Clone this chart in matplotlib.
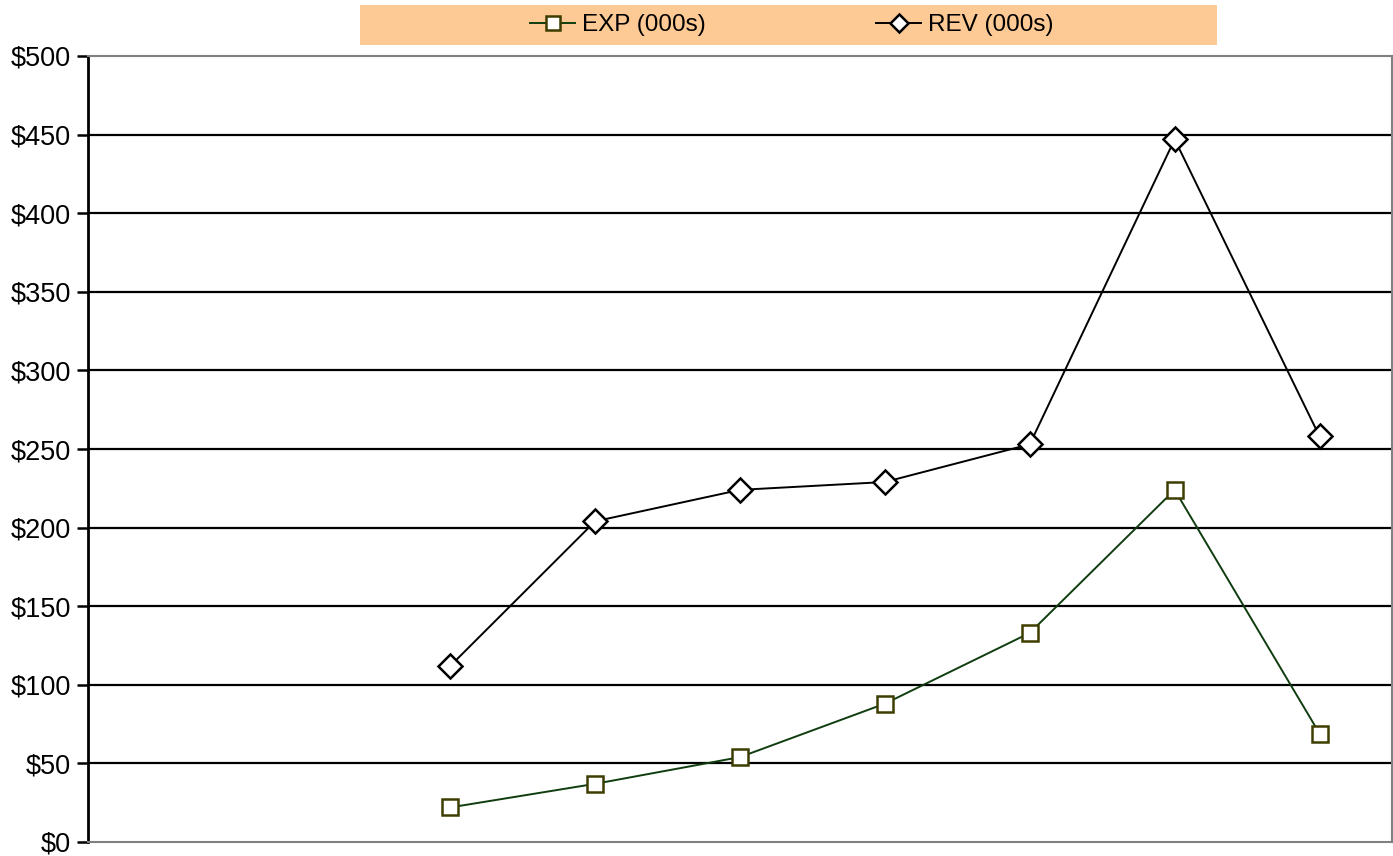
import matplotlib
matplotlib.use("Agg")
import matplotlib.pyplot as plt
from matplotlib.patches import Rectangle
import numpy as np

# Periods on the category axis (the first two have no data)
periods = list(range(9))
exp_000s = [np.nan, np.nan, 22, 37, 54, 88, 133, 224, 69]
rev_000s = [np.nan, np.nan, 112, 204, 224, 229, 253, 447, 258]
y_ticks = [0, 50, 100, 150, 200, 250, 300, 350, 400, 450, 500]
y_labels = [f"${v}" for v in y_ticks]

plt.rcParams["font.family"] = ["Liberation Sans", "DejaVu Sans"]

W, H = 1393, 856
fig = plt.figure(figsize=(W / 100, H / 100), dpi=100)
ax = fig.add_axes([88 / W, 1 - 842 / H, (1392 - 88) / W, (842 - 56) / H])

ax.set_xlim(-0.5, len(periods) - 0.5)
ax.set_ylim(0, 500)
ax.set_yticks(y_ticks)
ax.set_yticklabels(y_labels, fontsize=19.5)
ax.set_xticks([])
ax.tick_params(axis="y", direction="out", length=8, width=1.8, color="black", pad=4)

for v in y_ticks[1:-1]:
    ax.axhline(v, color="black", lw=1.6, zorder=1)

for side in ["top", "bottom", "right"]:
    ax.spines[side].set_color("#808080")
    ax.spines[side].set_linewidth(1.5)
ax.spines["left"].set_color("black")
ax.spines["left"].set_linewidth(2)

ax.plot(periods, exp_000s, color="#0f3d0f", lw=1.4, marker="s", ms=12,
        mfc="white", mec="#3d3d00", mew=1.8, label="EXP (000s)", zorder=3)
ax.plot(periods, rev_000s, color="black", lw=1.4, marker="D", ms=12,
        mfc="white", mec="black", mew=1.8, label="REV (000s)", zorder=3)

# Legend banner above the plot area
fig.patches.append(Rectangle((360 / W, 1 - 45 / H), (1217 - 360) / W, 40 / H,
                             transform=fig.transFigure, facecolor="#FDC995",
                             edgecolor="none", zorder=0))
fig.legend(loc="center", bbox_to_anchor=(792 / W, 1 - 25 / H), ncol=2,
           frameon=False, fontsize=17.5, handlelength=1.85, handletextpad=0.3,
           columnspacing=7.0, borderpad=0, markerscale=0.8)

fig.savefig("out.png", dpi=100)
